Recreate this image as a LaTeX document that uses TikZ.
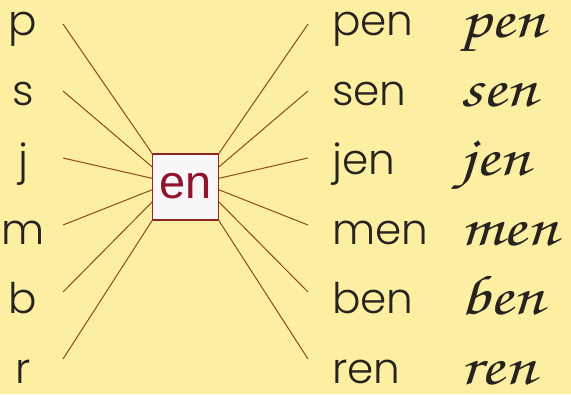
\documentclass[tikz,border=0pt]{standalone}
\usepackage[T1]{fontenc}
\usepackage{fontspec}
\usepackage{xcolor}
\usetikzlibrary{calc}
\newfontfamily\gothic{Poppins Light}
\newfontfamily\arial{Liberation Sans}
\newcommand\cursiva{\fontencoding{T1}\fontfamily{pzc}\fontseries{mb}\fontshape{it}\selectfont}
\definecolor{myyellow}{RGB}{252,239,162}
\definecolor{mybrown}{RGB}{140,72,32}
\definecolor{myred}{RGB}{145,20,42}
\definecolor{myink}{RGB}{38,34,30}
\definecolor{boxwhite}{RGB}{250,247,250}

\begin{document}
\begin{tikzpicture}[x=0.03cm, y=-0.03cm,
    letra/.style={text=myink, inner sep=0pt, font=\gothic\fontsize{36}{36}\selectfont},
    escrita/.style={text=myink, inner sep=0pt, font=\cursiva\fontsize{48}{48}\selectfont},
    raya/.style={color=mybrown, line width=0.85pt}]
  \def\lx{63}
  \def\rx{308}
  \def\ly{24}
  \def\dy{67}

  \fill[myyellow] (0,0) rectangle (571,394);

%box:
  \node[draw=myred!70!mybrown, line width=0.9pt, fill=boxwhite, minimum size=1.98cm,
        inner sep=0pt, outer sep=0pt] (en) at (185.5,187)
        {\raisebox{0.08cm}{\arial\fontsize{40}{40}\selectfont\color{myred}en}};

%letters and words:
  \foreach \l [count=\i from 0] in {p,s,j,m,b,r} {
    \node[letra, anchor=base] (l\i) at (23,{36+69.4*\i}) {\l};
    \node[letra, anchor=base west] (w\i) at (332,{36+69.4*\i}) {\l en};
    \node[escrita, anchor=base west] (c\i) at (460,{37+69.4*\i}) {\scalebox{1.22}[1]{\l en}};
    \coordinate (a\i) at (\lx,{\ly+\dy*\i});
    \coordinate (b\i) at (\rx,{\ly+\dy*\i});
  }

%rays:
  \foreach \f [count=\i from 0] in {0,0.2,0.37,0.54,0.72,1} {
    \draw[raya] (a\i) -- ($(en.north west)!\f!(en.south west)$);
    \draw[raya] (b\i) -- ($(en.north east)!\f!(en.south east)$);
  }
\end{tikzpicture}
\end{document}
